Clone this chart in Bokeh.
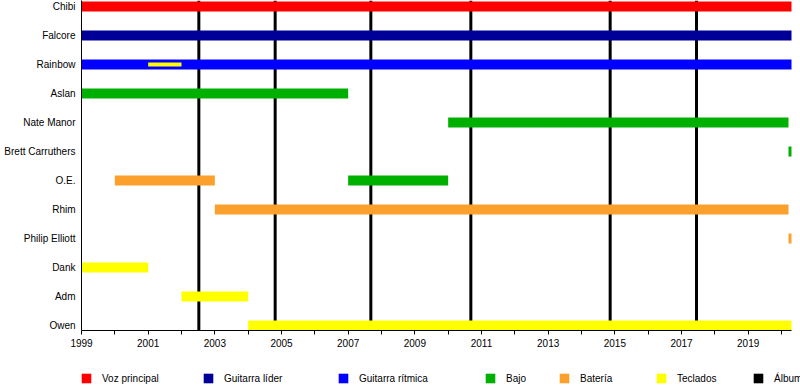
from bokeh.plotting import figure
from bokeh.layouts import column
from bokeh.models import Range1d, FixedTicker, ColumnDataSource, Legend, LegendItem
from bokeh.embed import file_html
from bokeh.resources import INLINE

# ---------------- data ----------------
members = ["Chibi", "Falcore", "Rainbow", "Aslan", "Nate Manor", "Brett Carruthers",
           "O.E.", "Rhim", "Philip Elliott", "Dank", "Adm", "Owen"]

roles = ["Voz principal", "Guitarra líder", "Guitarra rítmica", "Bajo", "Batería", "Teclados"]

bar_member = ["Chibi", "Falcore", "Rainbow", "Rainbow", "Aslan", "Nate Manor",
              "Brett Carruthers", "O.E.", "O.E.", "Rhim", "Philip Elliott",
              "Dank", "Adm", "Owen"]
bar_role = ["Voz principal", "Guitarra líder", "Guitarra rítmica", "Teclados", "Bajo", "Bajo",
            "Bajo", "Batería", "Bajo", "Batería", "Batería",
            "Teclados", "Teclados", "Teclados"]
bar_start = [1999, 1999, 1999, 2001, 1999, 2010,
             2020.21, 2000, 2007, 2003, 2020.21,
             1999, 2002, 2004]
bar_end = [2020.3, 2020.3, 2020.3, 2002, 2007, 2020.21,
           2020.3, 2003, 2010, 2020.21, 2020.3,
           2001, 2004, 2020.3]
bar_secondary = [False, False, False, True, False, False,
                 False, False, False, False, False,
                 False, False, False]

album_label = "Álbum"
album_years = [2002.52, 2004.81, 2007.68, 2010.68, 2014.86, 2017.45]

tick_years = [1999, 2001, 2003, 2005, 2007, 2009, 2011, 2013, 2015, 2017, 2019]
minor_years = [2000, 2002, 2004, 2006, 2008, 2010, 2012, 2014, 2016, 2018, 2020]

date_start, date_end = 1999, 2020.3

# ---------------- styles ----------------
role_colors = {
    "Voz principal": "#FF0000",
    "Guitarra líder": "#000099",
    "Guitarra rítmica": "#0000FF",
    "Bajo": "#00B000",
    "Batería": "#FBA02C",
    "Teclados": "#FFFF00",
}
album_color = "#000000"
FONT = "Liberation Sans"

n = len(members)
row_of = {m: n - 1 - i for i, m in enumerate(members)}
y_lo, y_hi = -0.172, (n - 1) + 0.206
view_end = date_end + 0.27   # a little white space right of the timeline

p = figure(width=800, height=352, output_backend="svg", toolbar_location=None,
           x_range=Range1d(date_start, view_end), y_range=Range1d(y_lo, y_hi),
           min_border_left=81, min_border_right=0, min_border_top=0, min_border_bottom=22)
p.outline_line_color = None
p.xgrid.visible = False
p.ygrid.visible = False
p.background_fill_color = "white"

# album markers
album_src = ColumnDataSource(dict(x=album_years,
                                  bottom=[y_lo] * len(album_years),
                                  top=[y_hi] * len(album_years)))
p.vbar(x="x", bottom="bottom", top="top", width=0.09, source=album_src,
       fill_color=album_color, line_color=None)

# member bars
role_sources = {}
for role in roles:
    idx = [i for i, r in enumerate(bar_role) if r == role]
    main = [i for i in idx if not bar_secondary[i]]
    sec = [i for i in idx if bar_secondary[i]]
    for group, h in ((main, 0.345), (sec, 0.138)):
        if not group:
            continue
        src = ColumnDataSource(dict(
            y=[row_of[bar_member[i]] for i in group],
            left=[bar_start[i] for i in group],
            right=[bar_end[i] for i in group],
        ))
        p.hbar(y="y", left="left", right="right", height=h, source=src,
               fill_color=role_colors[role], line_color=None)
        role_sources.setdefault(role, src)

# axes
xa = p.xaxis[0]
xa.bounds = (date_start, date_end)
xa.ticker = FixedTicker(ticks=tick_years, minor_ticks=minor_years)
xa.axis_line_color = "black"
xa.major_tick_line_color = "black"
xa.minor_tick_line_color = "black"
xa.major_tick_out = 4
xa.major_tick_in = 0
xa.minor_tick_out = 4
xa.minor_tick_in = 0
xa.major_label_standoff = 4
xa.major_label_text_font = FONT
xa.major_label_text_font_size = "10px"
xa.major_label_text_color = "#000000"

ya = p.yaxis[0]
ya.ticker = FixedTicker(ticks=[row_of[m] for m in members])
ya.major_label_overrides = {row_of[m]: m for m in members}
ya.axis_line_color = "black"
ya.major_tick_line_color = None
ya.minor_tick_line_color = None
ya.major_tick_out = 0
ya.major_tick_in = 0
ya.major_label_standoff = 6
ya.major_label_text_font = FONT
ya.major_label_text_font_size = "10px"
ya.major_label_text_color = "#000000"

# ---------------- legend strip ----------------
# (its frame is aligned with the chart frame; the shared sources lie outside its 0..1 ranges)
lg_fig = figure(width=800, height=38, output_backend="svg", toolbar_location=None,
                x_range=Range1d(0, 1), y_range=Range1d(0, 1),
                x_axis_type=None, y_axis_type=None,
                min_border_left=81, min_border_right=0, min_border_top=0, min_border_bottom=0)
lg_fig.outline_line_color = None

legend_entries = roles + [album_label]
legend_x = [-1, 121, 256, 403, 477, 574, 671]
for lab, lx in zip(legend_entries, legend_x):
    if lab == album_label:
        rend = lg_fig.vbar(x="x", bottom="bottom", top="top", width=0.09, source=album_src,
                           fill_color=album_color, line_color=None)
    else:
        rend = lg_fig.hbar(y="y", left="left", right="right", height=0.345,
                           source=role_sources[lab],
                           fill_color=role_colors[lab], line_color=None)
    lg = Legend(items=[LegendItem(label=lab, renderers=[rend])], location=(lx, 6),
                orientation="horizontal", padding=0, margin=0, spacing=0,
                glyph_width=12, glyph_height=12, label_height=12, label_standoff=10,
                label_text_font=FONT, label_text_font_size="10px",
                label_text_color="#000000",
                border_line_color=None, background_fill_alpha=0)
    lg_fig.add_layout(lg, "center")

layout = column(p, lg_fig, spacing=0)
open("out.html", "w").write(file_html(layout, INLINE))
